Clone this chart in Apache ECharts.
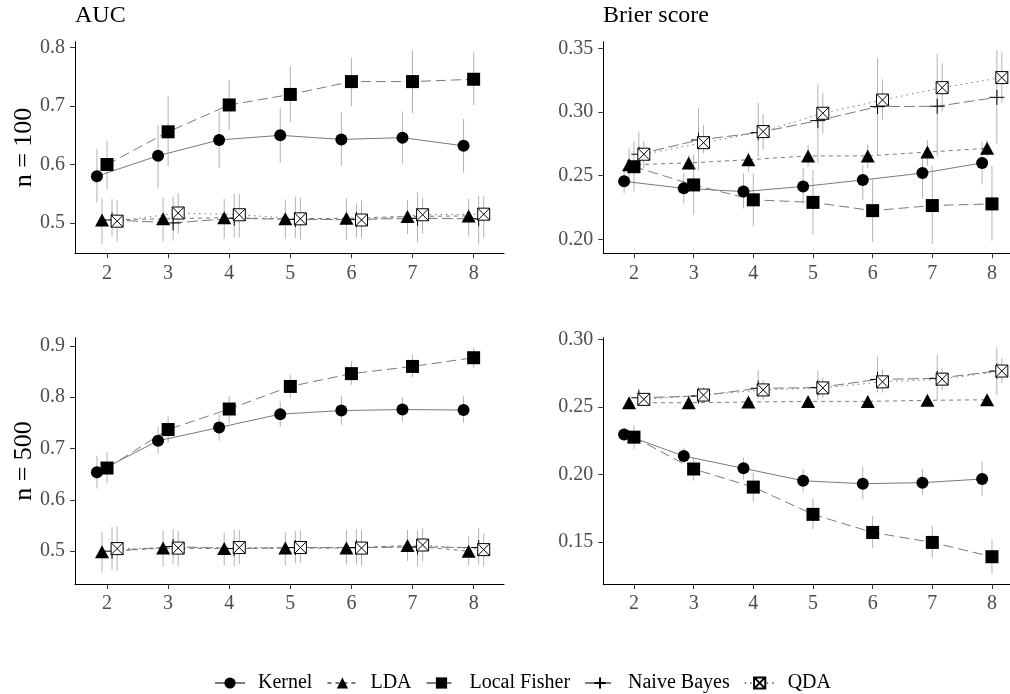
<!DOCTYPE html>
<html>
<head>
<meta charset="utf-8">
<script src="https://cdn.jsdelivr.net/npm/echarts@6/dist/echarts.min.js"></script>
<style>html,body{margin:0;padding:0;background:#fff}#c{width:1010px;height:694px}</style>
</head>
<body>
<div id="c"></div>
<script>
// ---------- data ----------
const xValues = [2, 3, 4, 5, 6, 7, 8];
const methods = ['Kernel', 'LDA', 'Local Fisher', 'Naive Bayes', 'QDA'];
const panelTitles = ['AUC', 'Brier score'];
const rowLabels = ['n = 100', 'n = 500'];

const aucTicks = [0.5, 0.6, 0.7, 0.8];
const brier100Ticks = [0.20, 0.25, 0.30, 0.35];
const auc500Ticks = [0.5, 0.6, 0.7, 0.8, 0.9];
const brier500Ticks = [0.15, 0.20, 0.25, 0.30];

// AUC, n = 100
const auc100Kernel   = [0.580, 0.615, 0.642, 0.650, 0.643, 0.646, 0.632];
const auc100KernelLo = [0.535, 0.559, 0.594, 0.603, 0.598, 0.602, 0.586];
const auc100KernelHi = [0.627, 0.668, 0.691, 0.696, 0.689, 0.691, 0.678];
const auc100LDA      = [0.505, 0.507, 0.509, 0.507, 0.508, 0.511, 0.512];
const auc100LDALo    = [0.464, 0.468, 0.473, 0.473, 0.471, 0.481, 0.478];
const auc100LDAHi    = [0.542, 0.544, 0.541, 0.540, 0.542, 0.539, 0.541];
const auc100LF       = [0.600, 0.656, 0.702, 0.720, 0.742, 0.742, 0.746];
const auc100LFLo     = [0.558, 0.597, 0.659, 0.673, 0.700, 0.688, 0.702];
const auc100LFHi     = [0.641, 0.717, 0.745, 0.768, 0.783, 0.796, 0.792];
const auc100NB       = [0.505, 0.500, 0.508, 0.506, 0.506, 0.508, 0.507];
const auc100NBLo     = [0.477, 0.470, 0.475, 0.474, 0.475, 0.466, 0.463];
const auc100NBHi     = [0.541, 0.545, 0.549, 0.545, 0.533, 0.553, 0.546];
const auc100QDA      = [0.503, 0.517, 0.514, 0.507, 0.505, 0.514, 0.515];
const auc100QDALo    = [0.468, 0.482, 0.475, 0.472, 0.474, 0.482, 0.474];
const auc100QDAHi    = [0.539, 0.551, 0.550, 0.543, 0.538, 0.543, 0.546];

// Brier score, n = 100
const bri100Kernel   = [0.2455, 0.2400, 0.2375, 0.2415, 0.2466, 0.2520, 0.2600];
const bri100KernelLo = [0.2360, 0.2280, 0.2243, 0.2280, 0.2310, 0.2320, 0.2430];
const bri100KernelHi = [0.2560, 0.2520, 0.2518, 0.2560, 0.2580, 0.2650, 0.2770];
const bri100LDA      = [0.2585, 0.2600, 0.2625, 0.2655, 0.2655, 0.2685, 0.2715];
const bri100LDALo    = [0.2480, 0.2545, 0.2530, 0.2570, 0.2558, 0.2580, 0.2650];
const bri100LDAHi    = [0.2715, 0.2660, 0.2690, 0.2740, 0.2745, 0.2780, 0.2780];
const bri100LF       = [0.2570, 0.2427, 0.2310, 0.2290, 0.2225, 0.2265, 0.2278];
const bri100LFLo     = [0.2375, 0.2190, 0.2100, 0.2034, 0.1980, 0.1963, 0.1990];
const bri100LFHi     = [0.2767, 0.2663, 0.2520, 0.2545, 0.2470, 0.2575, 0.2575];
const bri100NB       = [0.2668, 0.2780, 0.2838, 0.2932, 0.3042, 0.3045, 0.3115];
const bri100NBLo     = [0.2545, 0.2540, 0.2650, 0.2597, 0.2662, 0.2650, 0.2749];
const bri100NBHi     = [0.2846, 0.3030, 0.3073, 0.3217, 0.3421, 0.3453, 0.3487];
const bri100QDA      = [0.2668, 0.2759, 0.2846, 0.2990, 0.3094, 0.3191, 0.3270];
const bri100QDALo    = [0.2558, 0.2675, 0.2703, 0.2832, 0.2937, 0.3003, 0.3073];
const bri100QDAHi    = [0.2772, 0.2898, 0.2984, 0.3152, 0.3257, 0.3383, 0.3466];

// AUC, n = 500
const auc500Kernel   = [0.654, 0.715, 0.741, 0.767, 0.774, 0.776, 0.775];
const auc500KernelLo = [0.622, 0.689, 0.715, 0.743, 0.746, 0.753, 0.750];
const auc500KernelHi = [0.686, 0.742, 0.767, 0.792, 0.802, 0.800, 0.802];
const auc500LDA      = [0.499, 0.506, 0.505, 0.506, 0.506, 0.511, 0.500];
const auc500LDALo    = [0.458, 0.470, 0.472, 0.472, 0.474, 0.481, 0.472];
const auc500LDAHi    = [0.537, 0.541, 0.536, 0.537, 0.541, 0.542, 0.529];
const auc500LF       = [0.662, 0.737, 0.777, 0.821, 0.846, 0.860, 0.877];
const auc500LFLo     = [0.632, 0.711, 0.750, 0.798, 0.824, 0.839, 0.858];
const auc500LFHi     = [0.693, 0.763, 0.802, 0.844, 0.870, 0.883, 0.897];
const auc500NB       = [0.500, 0.509, 0.505, 0.507, 0.507, 0.508, 0.507];
const auc500NBLo     = [0.464, 0.474, 0.470, 0.476, 0.474, 0.470, 0.474];
const auc500NBHi     = [0.547, 0.543, 0.542, 0.539, 0.543, 0.541, 0.545];
const auc500QDA      = [0.505, 0.506, 0.507, 0.507, 0.506, 0.512, 0.503];
const auc500QDALo    = [0.462, 0.470, 0.475, 0.477, 0.472, 0.481, 0.470];
const auc500QDAHi    = [0.549, 0.539, 0.542, 0.539, 0.541, 0.545, 0.534];

// Brier score, n = 500
const bri500Kernel   = [0.2295, 0.2135, 0.2044, 0.1952, 0.1930, 0.1938, 0.1965];
const bri500KernelLo = [0.2249, 0.2081, 0.1962, 0.1871, 0.1814, 0.1846, 0.1839];
const bri500KernelHi = [0.2348, 0.2199, 0.2125, 0.2039, 0.2056, 0.2039, 0.2093];
const bri500LDA      = [0.2530, 0.2530, 0.2535, 0.2540, 0.2540, 0.2548, 0.2552];
const bri500LDALo    = [0.2510, 0.2510, 0.2515, 0.2520, 0.2520, 0.2525, 0.2530];
const bri500LDAHi    = [0.2555, 0.2555, 0.2560, 0.2562, 0.2562, 0.2570, 0.2575];
const bri500LF       = [0.2275, 0.2039, 0.1905, 0.1703, 0.1569, 0.1495, 0.1389];
const bri500LFLo     = [0.2185, 0.1952, 0.1797, 0.1594, 0.1451, 0.1381, 0.1265];
const bri500LFHi     = [0.2365, 0.2123, 0.2012, 0.1821, 0.1690, 0.1616, 0.1517];
const bri500NB       = [0.2567, 0.2580, 0.2637, 0.2642, 0.2703, 0.2711, 0.2765];
const bri500NBLo     = [0.2513, 0.2538, 0.2563, 0.2550, 0.2607, 0.2550, 0.2587];
const bri500NBHi     = [0.2637, 0.2649, 0.2773, 0.2768, 0.2871, 0.2884, 0.2941];
const bri500QDA      = [0.2555, 0.2587, 0.2625, 0.2640, 0.2685, 0.2705, 0.2765];
const bri500QDALo    = [0.2513, 0.2538, 0.2550, 0.2563, 0.2605, 0.2624, 0.2674];
const bri500QDAHi    = [0.2600, 0.2644, 0.2699, 0.2718, 0.2773, 0.2785, 0.2859];

// ---------- assembly ----------
const panels = [
  { means: [auc100Kernel, auc100LDA, auc100LF, auc100NB, auc100QDA],
    lows:  [auc100KernelLo, auc100LDALo, auc100LFLo, auc100NBLo, auc100QDALo],
    highs: [auc100KernelHi, auc100LDAHi, auc100LFHi, auc100NBHi, auc100QDAHi],
    ticks: aucTicks, ymin: 0.448, ymax: 0.8103, xmin: 1.476, xmax: 8.497,
    grid: { left: 75, top: 41.7, width: 429, height: 211.6 } },
  { means: [bri100Kernel, bri100LDA, bri100LF, bri100NB, bri100QDA],
    lows:  [bri100KernelLo, bri100LDALo, bri100LFLo, bri100NBLo, bri100QDALo],
    highs: [bri100KernelHi, bri100LDAHi, bri100LFHi, bri100NBHi, bri100QDAHi],
    ticks: brier100Ticks, ymin: 0.189, ymax: 0.3552, xmin: 1.486, xmax: 8.302,
    grid: { left: 603.3, top: 41.7, width: 406.7, height: 211.6 } },
  { means: [auc500Kernel, auc500LDA, auc500LF, auc500NB, auc500QDA],
    lows:  [auc500KernelLo, auc500LDALo, auc500LFLo, auc500NBLo, auc500QDALo],
    highs: [auc500KernelHi, auc500LDAHi, auc500LFHi, auc500NBHi, auc500QDAHi],
    ticks: auc500Ticks, ymin: 0.436, ymax: 0.916, xmin: 1.476, xmax: 8.497,
    grid: { left: 75, top: 337.7, width: 429, height: 246.3 } },
  { means: [bri500Kernel, bri500LDA, bri500LF, bri500NB, bri500QDA],
    lows:  [bri500KernelLo, bri500LDALo, bri500LFLo, bri500NBLo, bri500QDALo],
    highs: [bri500KernelHi, bri500LDAHi, bri500LFHi, bri500NBHi, bri500QDAHi],
    ticks: brier500Ticks, ymin: 0.1187, ymax: 0.3012, xmin: 1.486, xmax: 8.302,
    grid: { left: 603.3, top: 337.7, width: 406.7, height: 246.3 } }
];

const dodge = [-0.165, -0.082, 0, 0.082, 0.165];
const FONT = '"Liberation Serif", "DejaVu Serif", serif';
const LINE_GRAY = '#7a7a7a';
const BAR_GRAY = '#b3b3b3';
const symbols = [
  { symbol: 'circle', size: 12, item: { color: '#000' } },
  { symbol: 'triangle', size: [14, 13], item: { color: '#000' } },
  { symbol: 'rect', size: 13, item: { color: '#000' } },
  { symbol: 'path://M5,0L5,10M0,5L10,5', size: 15, item: { color: 'rgba(0,0,0,0)', borderColor: '#000', borderWidth: 1 } },
  { symbol: 'path://M0,0L10,0L10,10L0,10ZM0,0L10,10M10,0L0,10', size: 12, item: { color: '#fff', borderColor: '#000', borderWidth: 1 } }
];
const dashes = ['solid', [4, 4], [10, 5], [11, 4], [1.5, 4]];

const grids = [], xAxes = [], yAxes = [], series = [];
panels.forEach((p, pi) => {
  grids.push(Object.assign({ containLabel: false }, p.grid));
  xAxes.push({
    type: 'value', gridIndex: pi, min: p.xmin, max: p.xmax,
    axisLine: { show: true, onZero: false, lineStyle: { color: '#000', width: 1 } },
    axisTick: { show: true, length: 5, customValues: xValues, lineStyle: { color: '#333' } },
    axisLabel: { customValues: xValues, color: '#4d4d4d', fontFamily: FONT, fontSize: 20, margin: 10 },
    splitLine: { show: false }
  });
  yAxes.push({
    type: 'value', gridIndex: pi, min: p.ymin, max: p.ymax,
    axisLine: { show: true, onZero: false, lineStyle: { color: '#000', width: 1 } },
    axisTick: { show: true, length: 5, customValues: p.ticks, lineStyle: { color: '#333' } },
    axisLabel: { customValues: p.ticks, color: '#4d4d4d', fontFamily: FONT, fontSize: 20, margin: 10,
      formatter: v => (pi % 2 === 1 ? v.toFixed(2) : v.toFixed(1)) },
    splitLine: { show: false }
  });
  // error bars
  const bars = [];
  methods.forEach((m, mi) => {
    xValues.forEach((x, i) => bars.push([x + dodge[mi], p.lows[mi][i], p.highs[mi][i]]));
  });
  series.push({
    type: 'custom', xAxisIndex: pi, yAxisIndex: pi, z: 1, silent: true,
    data: bars, encode: { x: 0, y: [1, 2] },
    renderItem: (params, api) => {
      const a = api.coord([api.value(0), api.value(1)]);
      const b = api.coord([api.value(0), api.value(2)]);
      return { type: 'line', shape: { x1: a[0], y1: a[1], x2: b[0], y2: b[1] },
        style: { stroke: BAR_GRAY, lineWidth: 1 } };
    }
  });
  methods.forEach((m, mi) => {
    series.push({
      type: 'line', name: m, xAxisIndex: pi, yAxisIndex: pi, z: 3,
      data: xValues.map((x, i) => [x + dodge[mi], p.means[mi][i]]),
      symbol: symbols[mi].symbol, symbolSize: symbols[mi].size, showSymbol: true,
      itemStyle: symbols[mi].item,
      lineStyle: { color: LINE_GRAY, width: 1, type: dashes[mi] },
      emphasis: { disabled: true }
    });
  });
});

const chart = echarts.init(document.getElementById('c'), null, { renderer: 'canvas' });
chart.setOption({
  animation: false,
  backgroundColor: '#fff',
  grid: grids, xAxis: xAxes, yAxis: yAxes, series: series,
  legend: {
    data: methods, top: 668, left: 209, itemWidth: 30, itemHeight: 14, itemGap: 14,
    textStyle: { fontFamily: FONT, fontSize: 20, color: '#000', padding: [0, 0, 0, 8] }, selectedMode: false
  },
  graphic: [
    { type: 'text', x: 75, y: 16, style: { text: panelTitles[0], font: '24px ' + FONT, fill: '#000', textVerticalAlign: 'middle' } },
    { type: 'text', x: 603, y: 16, style: { text: panelTitles[1], font: '24px ' + FONT, fill: '#000', textVerticalAlign: 'middle' } },
    { type: 'text', x: 24, y: 147.5, rotation: Math.PI / 2, style: { text: rowLabels[0], font: '26px ' + FONT, fill: '#000', textAlign: 'center', textVerticalAlign: 'middle' } },
    { type: 'text', x: 24, y: 461, rotation: Math.PI / 2, style: { text: rowLabels[1], font: '26px ' + FONT, fill: '#000', textAlign: 'center', textVerticalAlign: 'middle' } }
  ]
});
</script>
</body>
</html>
